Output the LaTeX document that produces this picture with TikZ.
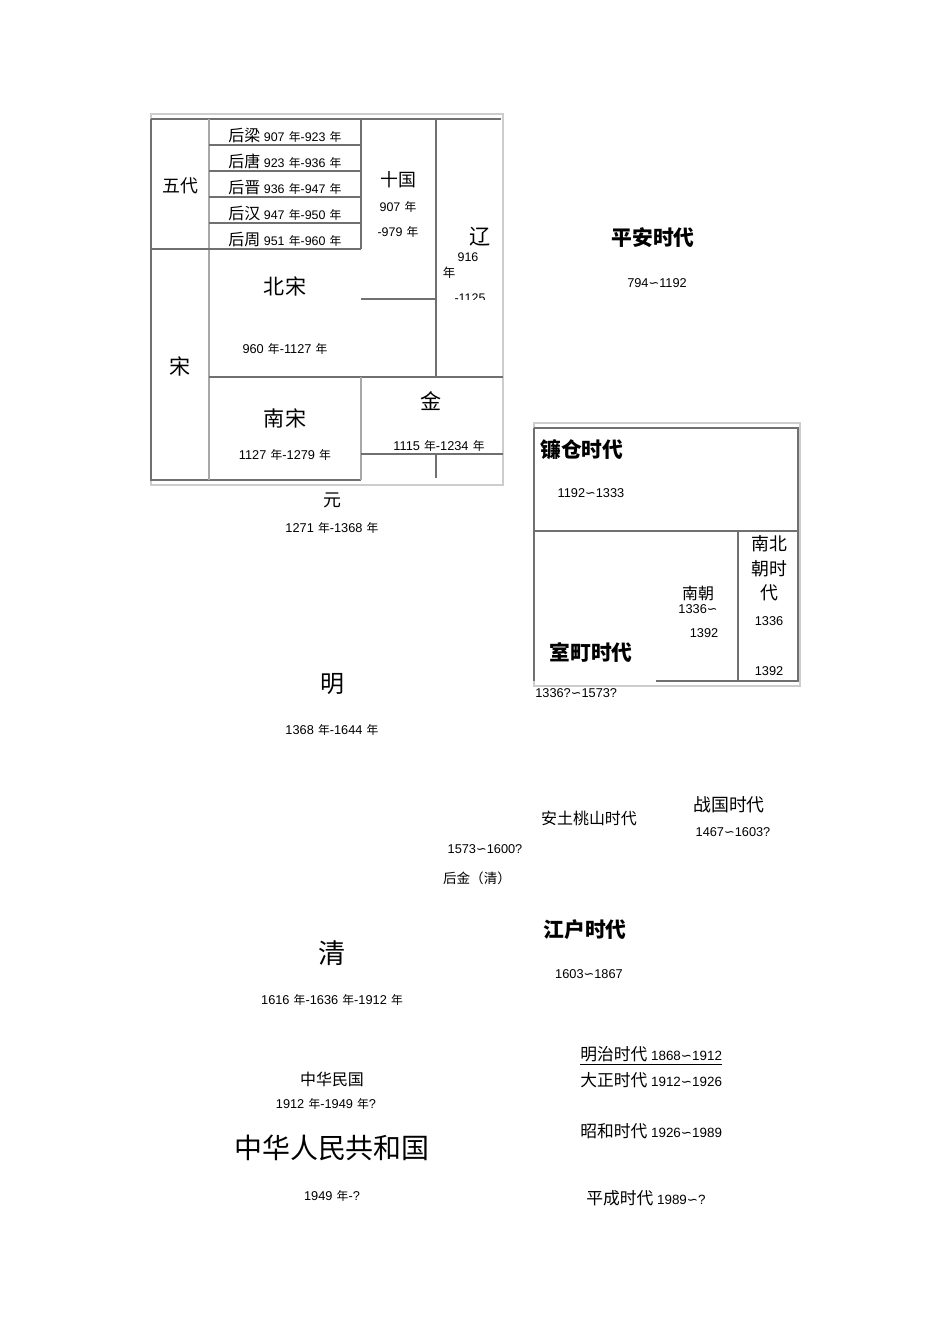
\documentclass[tikz,border=0pt]{standalone}
\usepackage{fontspec}
\setmainfont{Liberation Sans}
\newfontfamily\cjk{Noto Sans CJK SC}
\newfontfamily\symf{DejaVu Sans}
\usetikzlibrary{positioning}

\definecolor{rulegray}{HTML}{707070}
\definecolor{midgray}{HTML}{A8A8A8}
\definecolor{framegray}{HTML}{CDCDCD}

% year sign and wave dash
\newcommand{\nian}{\hspace{2.6pt}{\cjk\fontsize{7.4}{8}\selectfont 年}}
\newcommand{\wave}{{\symf ∽}}

\tikzset{
  rule/.style={draw=rulegray, line width=0.7pt},
  lightrule/.style={draw=midgray, line width=1pt},
  frame/.style={draw=framegray, line width=0.8pt},
  num/.style={inner sep=0pt, font=\fontsize{8}{9}\selectfont},
  rownum/.style={inner sep=0pt, font=\fontsize{7.8}{9}\selectfont},
  jpnum/.style={inner sep=0pt, font=\fontsize{8.4}{9}\selectfont},
  hz/.style={inner sep=0pt, font=\cjk\fontsize{10}{12}\selectfont},
  hzm/.style={inner sep=0pt, font=\cjk\fontsize{11.2}{13}\selectfont},
  hzl/.style={inner sep=0pt, font=\cjk\fontsize{13.2}{15}\selectfont},
  hzb/.style={inner sep=0pt, font=\cjk\bfseries\fontsize{13}{15}\selectfont}
}

\begin{document}
\begin{tikzpicture}[x=0.6263pt, y=-0.6263pt]
    \useasboundingbox (0,0) rectangle (950,1344);

    % Chinese table
    \draw[frame] (151,114) rectangle (503,485);
    \draw[rule] (151,119) -- (501,119);
    \draw[rule] (151,119) -- (151,480) -- (361,480);
    \draw[lightrule] (209,119) -- (209,480);
    \foreach \y in {145,171,197,223,249} {
        \draw[rule] (209,\y) -- (361,\y);
    }
    \draw[rule] (151,249) -- (209,249);
    \draw[rule] (361,119) -- (361,249);
    \draw[rule] (361,299) -- (436,299);
    \draw[rule] (436,119) -- (436,377);
    \draw[rule] (209,377) -- (503,377);
    \draw[lightrule] (361,377) -- (361,480);
    \draw[rule] (361,454) -- (503,454);
    \draw[rule] (436,454) -- (436,478);

    \node[hzm] (wudai) at (180,186) {五代};
    \foreach \i/\dyn/\from/\till in {0/后梁/907/923, 1/后唐/923/936, 2/后晋/936/947,
                                    3/后汉/947/950, 4/后周/951/960} {
        \node[rownum, anchor=base] (row\i) at (285,141+26*\i)
            {{\cjk\fontsize{10}{12}\selectfont \dyn} \from\nian-\till\nian};
    }
    \node[hzm] (shiguo) at (398,180) {十国};
    \node[rownum] (shiguoA) at (398,207) {907\nian};
    \node[rownum] (shiguoB) at (398,232) {-979\nian};

    % Liao, cut off by the cell
    \node[hzl] (liao) at (480,237) {辽};
    \node[rownum] (liaoA) at (468,257) {916};
    \node[rownum] (liaoB) at (449,273) {\cjk 年};
    \begin{scope}
        \clip (437,280) rectangle (503,299);
        \node[rownum] (liaoC) at (470,298) {-1125};
    \end{scope}

    \node[hzl] (song) at (180,366) {宋};
    \node[hzl] (beisong) at (285,286) {北宋};
    \node[num] (beisongY) at (285,349) {960\nian-1127\nian};
    \node[hzl] (nansong) at (285,418) {南宋};
    \node[num] (nansongY) at (285,455) {1127\nian-1279\nian};
    \node[hzl] (jin) at (431,401) {金};
    \node[num] (jinY) at (439,446) {1115\nian-1234\nian};

    % later dynasties
    \node[hzm] (yuan) at (332,500) {元};
    \node[num] (yuanY) at (332,528) {1271\nian-1368\nian};
    \node[inner sep=0pt, font=\cjk\fontsize{15}{17}\selectfont] (ming) at (332,684) {明};
    \node[num] (mingY) at (332,730) {1368\nian-1644\nian};
    \node[inner sep=0pt, font=\cjk\fontsize{8.5}{10}\selectfont] (houjin) at (477,878) {后金（清）};
    \node[inner sep=0pt, font=\cjk\fontsize{17}{19}\selectfont] (qing) at (332,953) {清};
    \node[num] (qingY) at (332,1000) {1616\nian-1636\nian-1912\nian};
    \node[hz] (minguo) at (332,1079) {中华民国};
    \node[num] (minguoY) at (326,1104) {1912\nian-1949\nian?};
    \node[inner sep=0pt, font=\cjk\fontsize{17.5}{20}\selectfont] (prc) at (332,1148) {中华人民共和国};
    \node[num] (prcY) at (332,1196) {1949\nian-?};

    % Japanese periods
    \node[hzb] (heian) at (653,238) {平安时代};
    \node[num] (heianY) at (657,283) {794\wave1192};

    \draw[frame] (534,423) rectangle (800,686);
    \draw[rule] (534,428) -- (798,428) -- (798,681) -- (656,681);
    \draw[rule] (534,428) -- (534,681);
    \draw[rule] (534,531) -- (798,531);
    \draw[rule] (738,531) -- (738,681);

    \node[hzb, anchor=west] (kamakura) at (540,450) {镰仓时代};
    \node[num] (kamakuraY) at (591,493) {1192\wave1333};
    \node[hzb] (muromachi) at (591,652) {室町时代};
    \node[hz] (nanchao) at (698,593) {南朝};
    \node[num] (nanchaoA) at (698,609) {1336\wave};
    \node[num] (nanchaoB) at (704,633) {1392};
    \node[hzm] (nbA) at (769,544) {南北};
    \node[hzm] (nbB) at (769,569) {朝时};
    \node[hzm] (nbC) at (769,593) {代};
    \node[num] (nbY1) at (769,621) {1336};
    \node[num] (nbY2) at (769,671) {1392};
    \node[num, anchor=west] (muromachiY) at (535,693) {1336?\wave1573?};

    \node[hzm] (sengoku) at (729,805) {战国时代};
    \node[num] (sengokuY) at (733,832) {1467\wave1603?};
    \node[hz] (azuchi) at (589,818) {安土桃山时代};
    \node[num] (azuchiY) at (485,849) {1573\wave1600?};
    \node[hzb] (edo) at (585,930) {江户时代};
    \node[num] (edoY) at (589,974) {1603\wave1867};

    \node[jpnum, anchor=west] (meiji) at (580,1054) {{\cjk\fontsize{10.5}{12}\selectfont 明治时代} 1868\wave1912};
    \draw[black, line width=0.5pt] ([yshift=-1.5pt]meiji.south west) -- ([yshift=-1.5pt]meiji.south east);
    \node[jpnum, anchor=west] (taisho) at (580,1080) {{\cjk\fontsize{10.5}{12}\selectfont 大正时代} 1912\wave1926};
    \node[jpnum, anchor=west] (showa) at (580,1131) {{\cjk\fontsize{10.5}{12}\selectfont 昭和时代} 1926\wave1989};
    \node[jpnum, anchor=west] (heisei) at (586,1198) {{\cjk\fontsize{10.5}{12}\selectfont 平成时代} 1989\wave?};
\end{tikzpicture}
\end{document}
